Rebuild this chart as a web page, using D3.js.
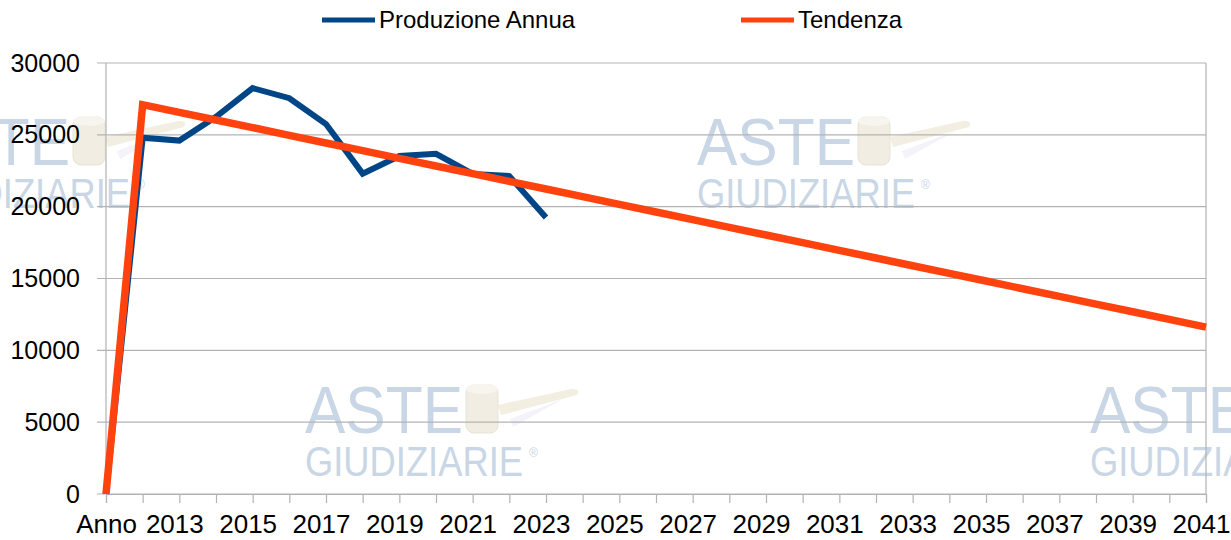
<!DOCTYPE html>
<html>
<head>
<meta charset="utf-8">
<script src="https://cdn.jsdelivr.net/npm/d3@7"></script>
<style>
  html, body { margin: 0; padding: 0; background: #fff; }
  svg { display: block; }
</style>
</head>
<body>
<script>
const WIDTH = 1231;
const HEIGHT = 540;
const FONT = '"Liberation Sans", Arial, sans-serif';
const GRID = '#b3b3b3';
const BLUE = '#004586';
const ORANGE = '#ff420e';
const WM = '#c9d6e5';

// categories
const categories = ['Anno', '2012', '2013', '2014', '2015', '2016', '2017', '2018', '2019', '2020',
  '2021', '2022', '2023', '2024', '2025', '2026', '2027', '2028', '2029', '2030',
  '2031', '2032', '2033', '2034', '2035', '2036', '2037', '2038', '2039', '2040', '2041'];

// Produzione Annua (only up to 2023)
const produzione = [0, 24800, 24600, 26250, 28250, 27550, 25750, 22300, 23530, 23680,
  22280, 22130, 19250];

// Tendenza
const tendenza = [0, 27100, 26566, 26032, 25499, 24965, 24431, 23897, 23363, 22830,
  22296, 21762, 21228, 20694, 20161, 19627, 19093, 18559, 18025, 17492,
  16958, 16424, 15890, 15356, 14823, 14289, 13755, 13221, 12687, 12154, 11620];

const yTicks = [0, 5000, 10000, 15000, 20000, 25000, 30000];

const series = [
  { name: 'Produzione Annua', values: produzione, color: BLUE, width: 6 },
  { name: 'Tendenza', values: tendenza, color: ORANGE, width: 7.5 },
];

const svg = d3.select('body').append('svg')
  .attr('width', WIDTH)
  .attr('height', HEIGHT)
  .attr('viewBox', `0 0 ${WIDTH} ${HEIGHT}`)
  .style('background', '#fff');

const x = d3.scalePoint().domain(categories).range([106, 1206]);
const y = d3.scaleLinear().domain([0, 30000]).range([494, 63]);

// watermark logos (behind everything)
function logo(lx, ly) {
  const g = svg.append('g').attr('transform', `translate(${lx},${ly})`);
  g.append('text')
    .attr('x', 0).attr('y', 48)
    .attr('font-family', FONT).attr('font-size', 66)
    .attr('textLength', 158).attr('lengthAdjust', 'spacingAndGlyphs')
    .attr('fill', WM)
    .text('ASTE');
  g.append('text')
    .attr('x', 0).attr('y', 91)
    .attr('font-family', FONT).attr('font-size', 42)
    .attr('textLength', 218).attr('lengthAdjust', 'spacingAndGlyphs')
    .attr('fill', WM)
    .text('GIUDIZIARIE');
  g.append('text')
    .attr('x', 224).attr('y', 72)
    .attr('font-family', FONT).attr('font-size', 12)
    .attr('fill', WM)
    .text('®');
  // gavel
  const gv = g.append('g').attr('opacity', 0.85);
  gv.append('path')
    .attr('d', 'M193,20 L266,4 Q276,3 272,10 L196,30 Z')
    .attr('fill', '#f0ecdc');
  gv.append('path')
    .attr('d', 'M205,34 L258,14 L208,42 Z')
    .attr('fill', '#f2f1f8');
  gv.append('rect')
    .attr('x', 161).attr('y', 0).attr('width', 32).attr('height', 48).attr('rx', 8)
    .attr('fill', '#efebde').attr('stroke', '#e3dfcc').attr('stroke-width', 1);
  gv.append('ellipse')
    .attr('cx', 177).attr('cy', 4).attr('rx', 16).attr('ry', 5)
    .attr('fill', '#f6f4ec');
}
logo(-88, 117);
logo(697, 117);
logo(305, 385);
logo(1090, 385);

// horizontal gridlines with left tick stubs
svg.append('g')
  .selectAll('line')
  .data(yTicks)
  .join('line')
  .attr('x1', 97).attr('x2', 1206)
  .attr('y1', d => y(d)).attr('y2', d => y(d))
  .attr('stroke', GRID).attr('stroke-width', 1.2);

// y axis labels
svg.append('g')
  .selectAll('text')
  .data(yTicks)
  .join('text')
  .attr('x', 80)
  .attr('y', d => y(d) + 8.5)
  .attr('text-anchor', 'end')
  .attr('font-family', FONT).attr('font-size', 25)
  .attr('fill', '#000')
  .text(d => d);

// left axis + right border
svg.append('line')
  .attr('x1', 106).attr('x2', 106).attr('y1', y(30000)).attr('y2', y(0))
  .attr('stroke', GRID).attr('stroke-width', 1.2);
svg.append('line')
  .attr('x1', 1206).attr('x2', 1206).attr('y1', y(30000)).attr('y2', y(0))
  .attr('stroke', GRID).attr('stroke-width', 1.2);

// x axis
const xAxis = d3.axisBottom(x)
  .tickSize(9)
  .tickPadding(12)
  .tickFormat((d, i) => (i % 2 === 0 ? d : ''));
const gx = svg.append('g')
  .attr('transform', `translate(0,${y(0)})`)
  .call(xAxis);
gx.select('.domain').attr('stroke', GRID).attr('stroke-width', 1.2);
gx.selectAll('.tick line').attr('stroke', GRID).attr('stroke-width', 1.2);
gx.selectAll('.tick text')
  .attr('x', (d, i) => (i === 0 ? 0 : -5))
  .attr('font-family', FONT).attr('font-size', 26)
  .attr('fill', '#000')
  .attr('dy', '0.71em');

// lines
const line = d3.line()
  .x((d, i) => x(categories[i]))
  .y(d => y(d));

svg.append('g')
  .selectAll('path')
  .data(series)
  .join('path')
  .attr('d', d => line(d.values))
  .attr('fill', 'none')
  .attr('stroke', d => d.color)
  .attr('stroke-width', d => d.width)
  .attr('stroke-linejoin', 'miter')
  .attr('stroke-miterlimit', 3);

// legend
const legendX = [322, 741];
const leg = svg.append('g')
  .selectAll('g')
  .data(series)
  .join('g')
  .attr('transform', (d, i) => `translate(${legendX[i]},20)`);
leg.append('line')
  .attr('x1', 0).attr('x2', 53)
  .attr('stroke', d => d.color)
  .attr('stroke-width', 5);
leg.append('text')
  .attr('x', 57).attr('y', 8)
  .attr('font-family', FONT).attr('font-size', 24)
  .attr('fill', '#000')
  .text(d => d.name);
</script>
</body>
</html>
